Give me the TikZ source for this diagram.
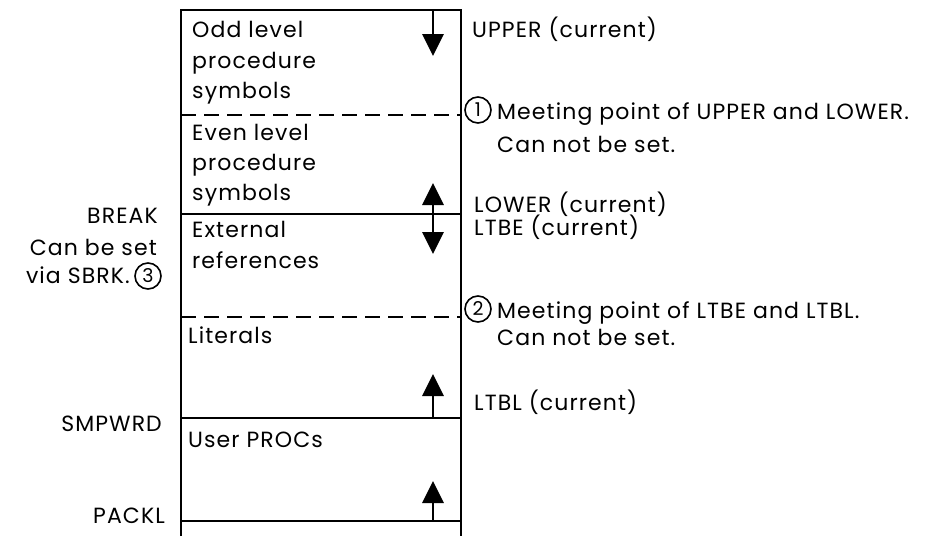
\documentclass[tikz,border=0pt]{standalone}
\usepackage{fontspec}
\setmainfont[LetterSpace=5]{Poppins}
\usetikzlibrary{arrows.meta}
\begin{document}
\begin{tikzpicture}[x=1pt,y=-1pt,
  txt/.style={anchor=base west, inner sep=0pt, font=\fontsize{22}{26}\selectfont},
  rtxt/.style={anchor=base east, inner sep=0pt, font=\fontsize{22}{26}\selectfont},
  wall/.style={line width=2.8pt},
  sepline/.style={line width=2.8pt, dash pattern=on 15pt off 8pt},
  arr/.style={line width=2.8pt, -{Triangle[width=21pt,length=22pt]}},
  darr/.style={line width=2.8pt, {Triangle[width=21pt,length=22pt]}-{Triangle[width=21pt,length=22pt]}},
  num/.style={circle, draw, line width=1.6pt, inner sep=0pt, minimum size=26pt, font=\fontsize{19}{22}\selectfont}
]
\useasboundingbox (0,0) rectangle (946,536);
% frame coordinates
\coordinate (tl) at (181,10);  \coordinate (tr) at (461,10);
\coordinate (bl) at (181,536); \coordinate (br) at (461,536);
\coordinate (d1l) at (181,115); \coordinate (d1r) at (461,115);
\coordinate (s2l) at (181,214); \coordinate (s2r) at (461,214);
\coordinate (d3l) at (181,317); \coordinate (d3r) at (461,317);
\coordinate (s4l) at (181,418); \coordinate (s4r) at (461,418);
\coordinate (s5l) at (181,521); \coordinate (s5r) at (461,521);
\draw[wall] (bl) -- (tl) -- (tr) -- (br);
\draw[sepline] (d1l) -- (d1r);
\draw[wall] (s2l) -- (s2r);
\draw[sepline] (d3l) -- (d3r);
\draw[wall] (s4l) -- (s4r);
\draw[wall] (s5l) -- (s5r);
% arrows
\coordinate (a1s) at (433,10);  \coordinate (a1e) at (433,56);
\coordinate (a2s) at (433,183); \coordinate (a2e) at (433,254);
\coordinate (a3s) at (433,418); \coordinate (a3e) at (433,374);
\coordinate (a4s) at (433,521); \coordinate (a4e) at (433,481);
\draw[arr] (a1s) -- (a1e);
\draw[darr] (a2s) -- (a2e);
\draw[arr] (a3s) -- (a3e);
\draw[arr] (a4s) -- (a4e);
% box texts
\node[txt] (odd1) at (192,37) {Odd level};
\node[txt] (odd2) at (192,68) {procedure};
\node[txt] (odd3) at (192,98) {symbols};
\node[txt] (even1) at (192,140) {Even level};
\node[txt] (even2) at (192,170) {procedure};
\node[txt] (even3) at (192,200) {symbols};
\node[txt] (ext1) at (192,237) {External};
\node[txt] (ext2) at (192,268) {references};
\node[txt] (lit) at (188,343) {Literals};
\node[txt] (user) at (188,447) {User PROCs};
% right texts
\node[txt] (upper) at (472,37) {UPPER (current)};
\node[num] (n1) at (478,110) {1};
\node[txt] (m1) at (497,119) {Meeting point of UPPER and LOWER.};
\node[txt] (c1) at (497,152) {Can not be set.};
\node[txt] (lower) at (474,212) {LOWER (current)};
\node[txt] (ltbe) at (474,235) {LTBE (current)};
\node[num] (n2) at (478,309) {2};
\node[txt] (m2) at (497,318) {Meeting point of LTBE and LTBL.};
\node[txt] (c2) at (497,345) {Can not be set.};
\node[txt] (ltbl) at (474,410) {LTBL (current)};
% left texts
\node[rtxt] (break) at (158,223) {BREAK};
\node[rtxt] (canbe) at (157,255) {Can be set};
\node[num] (n3) at (148,276) {3};
\node[rtxt] (via) at (130,283) {via SBRK.};
\node[rtxt] (smp) at (162,431) {SMPWRD};
\node[rtxt] (packl) at (165,523) {PACKL};
\end{tikzpicture}
\end{document}
